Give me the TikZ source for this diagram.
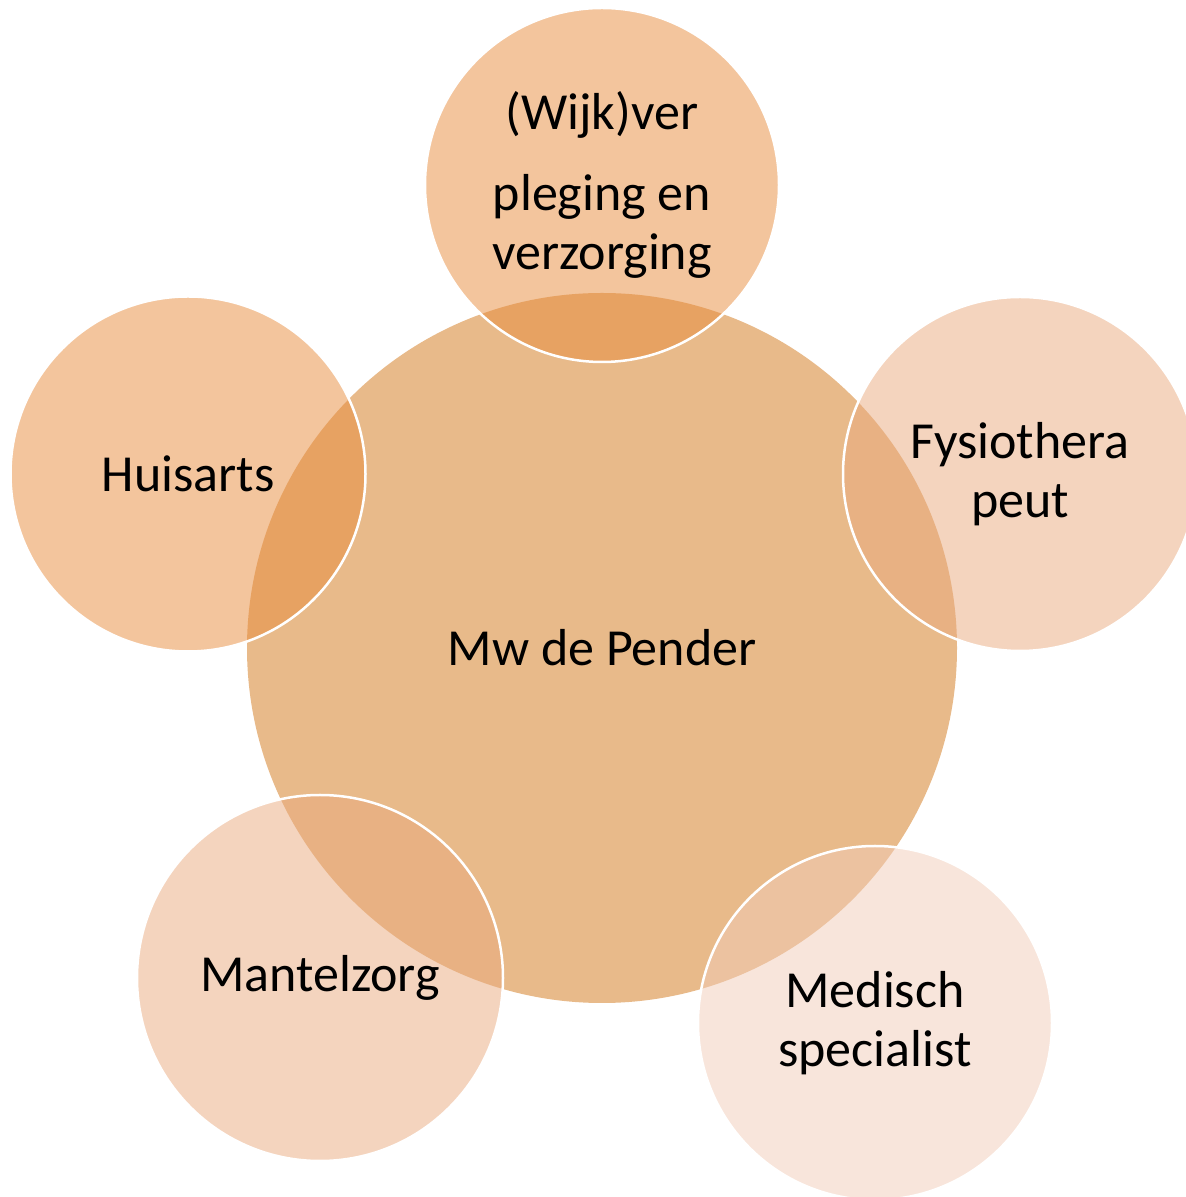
\documentclass[tikz,border=0pt]{standalone}
\usepackage{fontspec}
\setmainfont{Carlito}
\usepackage{tikz}
\usetikzlibrary{positioning}
\usepackage{xcolor}
\definecolor{sand}{RGB}{232,186,138}
\definecolor{orange}{RGB}{231,139,59}
\definecolor{peach}{RGB}{233,169,125}
\definecolor{pale}{RGB}{241,203,183}
\tikzset{bigsandnode/.style={circle, fill=sand, inner sep=0pt, minimum size=710pt, align=center},
satellitenode/.style={circle, draw=white, line width=2.5pt, fill opacity=0.5, text opacity=1, inner sep=0pt, minimum size=354pt, align=center},
satorangenode/.style={satellitenode, fill=orange},
satpeachnode/.style={satellitenode, fill=peach},
satpalenode/.style={satellitenode, fill=pale}}

\begin{document}
\begin{tikzpicture}[
        font=\fontsize{52pt}{59pt}\selectfont
    ]
        % Frame
        \useasboundingbox (0pt, 0pt) rectangle (1186pt, 1197pt);
        \clip (0pt, 0pt) rectangle (1186pt, 1197pt);
        % Centre
        \node[bigsandnode] (pender) at (602pt, 549pt) {Mw de Pender};
        % Satellites
        \node[satorangenode] (wijkverpleging) at (602pt, 1012pt) {(Wijk)ver\\[22pt]pleging en\\verzorging};
        \node[satorangenode, minimum size=355pt] (huisarts) at (188pt, 723pt) {Huisarts};
        \node[satpeachnode] (fysio) at (1020pt, 723pt) {Fysiothera\\peut};
        \node[satpeachnode, minimum size=366pt] (mantelzorg) at (320pt, 219pt) {Mantelzorg};
        \node[satpalenode] (specialist) at (875pt, 174pt) {Medisch\\specialist};
    \end{tikzpicture}
\end{document}
